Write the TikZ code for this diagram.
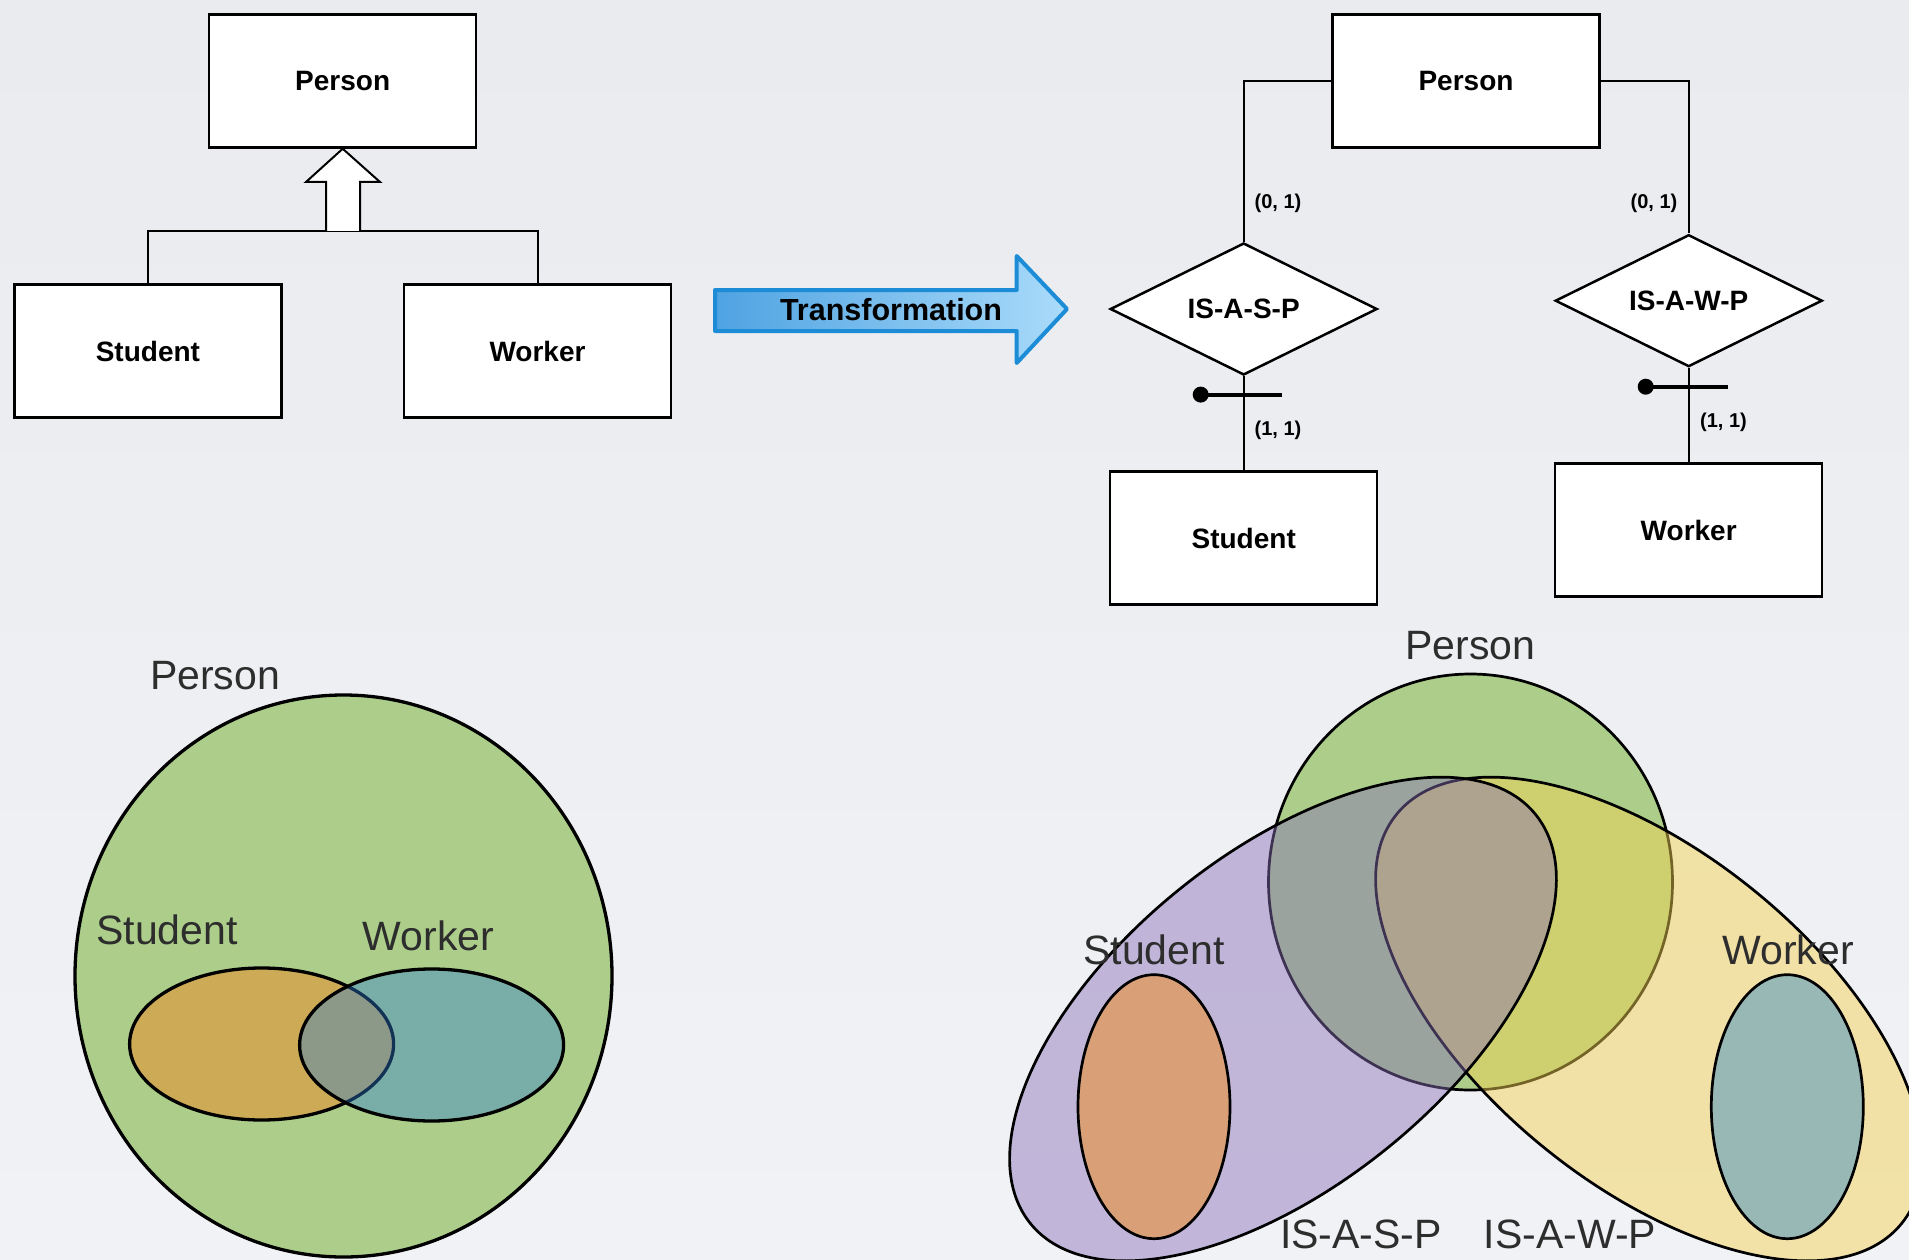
\documentclass[tikz,border=0pt]{standalone}
\usepackage{fontspec}
\setmainfont{Liberation Sans}
\usetikzlibrary{shapes.geometric}

\definecolor{bgtop}{RGB}{233,235,239}
\definecolor{bgbot}{RGB}{241,242,245}
\definecolor{vgreen}{RGB}{172,206,138}
\definecolor{vorange}{RGB}{205,170,85}
\definecolor{vblue}{RGB}{45,128,213}
\definecolor{vpurple}{RGB}{136,111,184}
\definecolor{vyellow}{RGB}{244,209,82}
\definecolor{vpeach}{RGB}{217,160,119}
\definecolor{vteal}{RGB}{152,184,181}
\definecolor{labelgray}{RGB}{45,45,45}
\definecolor{arrowL}{RGB}{79,163,226}
\definecolor{arrowR}{RGB}{170,219,250}
\definecolor{arrowB}{RGB}{28,140,215}

\begin{document}
\begin{tikzpicture}[x=1pt,y=-1pt,
  ent/.style={draw=black, line width=2.5pt, fill=white, minimum width=267pt,
    minimum height=133pt, inner sep=0pt, font=\fontsize{28}{32}\selectfont\bfseries},
  rel/.style={diamond, aspect=2, draw=black, line width=2.5pt, fill=white, minimum width=267pt,
    minimum height=132pt, inner sep=0pt, font=\fontsize{28}{32}\selectfont\bfseries},
  card/.style={inner sep=0pt, font=\fontsize{20}{24}\selectfont\bfseries},
  link/.style={draw=black, line width=2pt},
  tick/.style={draw=black, line width=4pt},
  vlabel/.style={anchor=base, inner sep=0pt, text=labelgray, font=\fontsize{41}{48}\selectfont},
  vennA/.style={draw=black, line width=3.3pt},
  vennB/.style={draw=black, line width=2.7pt},
]
% page background
\shade[top color=bgtop, bottom color=bgbot] (0,0) rectangle (1909,1260);
\useasboundingbox (0,0) rectangle (1909,1260);

% ---------- generalisation hierarchy ----------
\node[ent] (tp) at (342.7,81) {Person};
\node[ent] (ts) at (147.9,351) {Student};
\node[ent] (tw) at (537.5,351) {Worker};
\coordinate (tj) at (343,231);
\draw[link] (ts.north) -- (ts.north |- tj) -- (tw.north |- tj) -- (tw.north);
% hollow generalisation arrow
\draw[link, fill=white, line join=miter]
  (326,231) -- (326,182) -- (306,182) -- (tp.south) -- (380,182) -- (360,182) -- (360,231);

% ---------- transformation arrow ----------
\draw[draw=arrowB, line width=4pt, line join=round, left color=arrowL, right color=arrowR]
  (715,290) -- (1016.7,290) -- (1016.7,256) -- (1067,309) -- (1016.7,363)
  -- (1016.7,331) -- (715,331) -- cycle;
\node[font=\fontsize{30.5}{34}\selectfont\bfseries, inner sep=0pt] (tr) at (891,310) {Transformation};

% ---------- relationship version ----------
\node[ent] (rp) at (1466,81) {Person};
\node[rel] (rs) at (1243.7,309) {IS-A-S-P};
\node[rel] (rw) at (1688.7,300.7) {IS-A-W-P};
\node[ent] (rst) at (1243.7,538) {Student};
\node[ent] (rwk) at (1688.7,530) {Worker};
\draw[link] (rp.west) -| (rs.north);
\draw[link] (rp.east) -| (rw.north);
\draw[link] (rs.south) -- (rst.north);
\draw[link] (rw.south) -- (rwk.north);
% identifier marks
\coordinate (ks) at (1243.7,394.6);
\coordinate (kw) at (1688.7,386.7);
\draw[tick] ([xshift=-43pt]ks) -- ([xshift=38pt]ks);
\fill ([xshift=-43pt]ks) circle (8pt);
\draw[tick] ([xshift=-43pt]kw) -- ([xshift=39pt]kw);
\fill ([xshift=-43pt]kw) circle (8pt);
% cardinalities
\node[card] (c1) at (1278,203.6) {(0, 1)};
\node[card] (c2) at (1654,203.6) {(0, 1)};
\node[card] (c3) at (1278,430) {(1, 1)};
\node[card] (c4) at (1723.5,422) {(1, 1)};

% ---------- set view of the hierarchy ----------
\draw[vennA, fill=vgreen] (343.5,976) ellipse (268.5pt and 281pt);
\draw[vennA, fill=vorange] (261.6,1044) ellipse (132pt and 76pt);
\draw[vennA, fill=vblue, fill opacity=0.4] (431.6,1045) ellipse (132pt and 76pt);
\node[vlabel] (lp) at (215,689.4) {Person};
\node[vlabel] (ls) at (167,944.5) {Student};
\node[vlabel] (lw) at (428.5,950.4) {Worker};

% ---------- set view of the relationships ----------
\draw[vennB, fill=vgreen] (1470.5,882) ellipse (202pt and 208pt);
\draw[vennB, fill=vyellow, fill opacity=0.48, rotate around={-39:(1649,1019)}]
  (1649,1019) ellipse (325pt and 166pt);
\draw[vennB, fill=vpurple, fill opacity=0.45, rotate around={39:(1283,1019)}]
  (1283,1019) ellipse (325pt and 166pt);
\draw[vennB, fill=vpeach] (1154,1106.7) ellipse (76pt and 132pt);
\draw[vennB, fill=vteal] (1787.3,1106.7) ellipse (76pt and 132pt);
\node[vlabel] (rpl) at (1470.5,659) {Person};
\node[vlabel] (rsl) at (1154,964) {Student};
\node[vlabel] (rwl) at (1788,964) {Worker};
\node[vlabel] (risp) at (1361,1248) {IS-A-S-P};
\node[vlabel] (riwp) at (1570,1248) {IS-A-W-P};
\end{tikzpicture}
\end{document}
